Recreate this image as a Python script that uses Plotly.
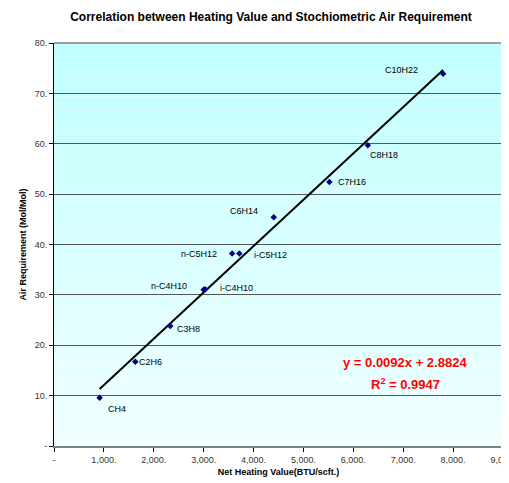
import plotly.graph_objects as go

# Data
compounds = ["CH4", "C2H6", "C3H8", "n-C4H10", "i-C4H10", "n-C5H12", "i-C5H12",
             "C6H14", "C7H16", "C8H18", "C10H22"]
heating_value = [915, 1630, 2330, 3000, 3030, 3570, 3715, 4405, 5520, 6290, 7800]
air_requirement = [9.6, 16.7, 23.8, 31.0, 31.1, 38.2, 38.2, 45.4, 52.4, 59.7, 73.9]

slope = 0.0092
intercept = 2.8824
r_squared = 0.9947

x_ticks = [0, 1000, 2000, 3000, 4000, 5000, 6000, 7000, 8000, 9000]
x_tick_labels = ["-", "1,000.", "2,000.", "3,000.", "4,000.", "5,000.", "6,000.", "7,000.", "8,000.", "9,000."]
y_ticks = [0, 10, 20, 30, 40, 50, 60, 70, 80]
y_tick_labels = ["-", "10.", "20.", "30.", "40.", "50.", "60.", "70.", "80."]

# label pixel offsets (style)
label_offsets = {
    "CH4": (17, -11), "C2H6": (15, 0), "C3H8": (18, -3), "n-C4H10": (-35, 4),
    "i-C4H10": (31, 1), "n-C5H12": (-33, 0), "i-C5H12": (31, -1), "C6H14": (-30, 6),
    "C7H16": (23, 0), "C8H18": (16, -10), "C10H22": (-42, 4),
}

FONT = "Liberation Sans, Arial"

fig = go.Figure()

# gradient background
n = 60
top = (192, 255, 255)
bot = (240, 255, 255)
shapes = []
for i in range(n):
    t = i / (n - 1)
    c = tuple(int(round(top[k] + (bot[k] - top[k]) * t)) for k in range(3))
    shapes.append(dict(type="rect", xref="paper", yref="paper",
                       x0=0, x1=1, y0=1 - (i + 1) / n, y1=1 - i / n,
                       fillcolor="rgb(%d,%d,%d)" % c, line=dict(width=0), layer="below"))
# border (top / right gray)
shapes.append(dict(type="line", xref="paper", yref="paper", x0=0, x1=1, y0=1, y1=1,
                   line=dict(color="#808080", width=1.5)))
shapes.append(dict(type="line", xref="paper", yref="paper", x0=1, x1=1, y0=0, y1=1,
                   line=dict(color="#808080", width=1.5)))

# trendline
xmin, xmax = min(heating_value), max(heating_value)
fig.add_trace(go.Scatter(x=[xmin, xmax], y=[slope * xmin + intercept, slope * xmax + intercept],
                         mode="lines", line=dict(color="black", width=2), hoverinfo="skip",
                         showlegend=False))
fig.add_trace(go.Scatter(x=heating_value, y=air_requirement, mode="markers",
                         marker=dict(symbol="diamond", size=5, color="#000080"),
                         showlegend=False))

annotations = []
for name, xv, yv in zip(compounds, heating_value, air_requirement):
    dx, dy = label_offsets[name]
    annotations.append(dict(x=xv, y=yv, xref="x", yref="y", text=name, showarrow=False,
                            xshift=dx, yshift=dy,
                            font=dict(family=FONT, size=9, color="black")))

annotations.append(dict(xref="paper", yref="paper", x=0.782, y=0.207, xanchor="center",
                        yanchor="middle",
                        text="<b>y = %.4fx + %.4f</b>" % (slope, intercept),
                        showarrow=False,
                        font=dict(family=FONT, size=13, color="#FF0000")))
annotations.append(dict(xref="paper", yref="paper", x=0.782, y=0.155, xanchor="center",
                        yanchor="middle",
                        text="<b>R<sup>2</sup> = %.4f</b>" % r_squared,
                        showarrow=False,
                        font=dict(family=FONT, size=13, color="#FF0000")))

# page body has an 8px margin, so the figure is sized/offset to compensate
fig.update_layout(
    width=501, height=475,
    margin=dict(l=46, r=6, t=35, b=37, autoexpand=False),
    paper_bgcolor="white", plot_bgcolor="rgba(0,0,0,0)",
    title=dict(text="<b>Correlation between Heating Value and Stochiometric Air Requirement</b>",
               x=0.525, xanchor="center", y=0.982, yanchor="middle",
               font=dict(family=FONT, size=12, color="black")),
    shapes=shapes, annotations=annotations,
    xaxis=dict(range=[0, 9000], tickvals=x_ticks, ticktext=x_tick_labels, automargin=False,
               ticklabeloverflow="allow",
               showgrid=False, zeroline=False, showline=True, linecolor="#808080", linewidth=2,
               ticks="outside", ticklen=4, tickcolor="black",
               tickfont=dict(family=FONT, size=9, color="#333"),
               title=dict(text="<b>Net Heating Value(BTU/scft.)</b>", standoff=5,
                          font=dict(family=FONT, size=9, color="black"))),
    yaxis=dict(range=[0, 80], tickvals=y_ticks, ticktext=y_tick_labels, automargin=False,
               ticklabeloverflow="allow",
               showgrid=True, gridcolor="#555555", gridwidth=1, zeroline=False,
               showline=True, linecolor="black", linewidth=1,
               ticks="outside", ticklen=4, tickcolor="black",
               tickfont=dict(family=FONT, size=9, color="#333"),
               title=dict(text="<b>Air Requirement (Mol/Mol)</b>", standoff=6,
                          font=dict(family=FONT, size=9, color="black"))),
)

fig.write_html("out.html")
